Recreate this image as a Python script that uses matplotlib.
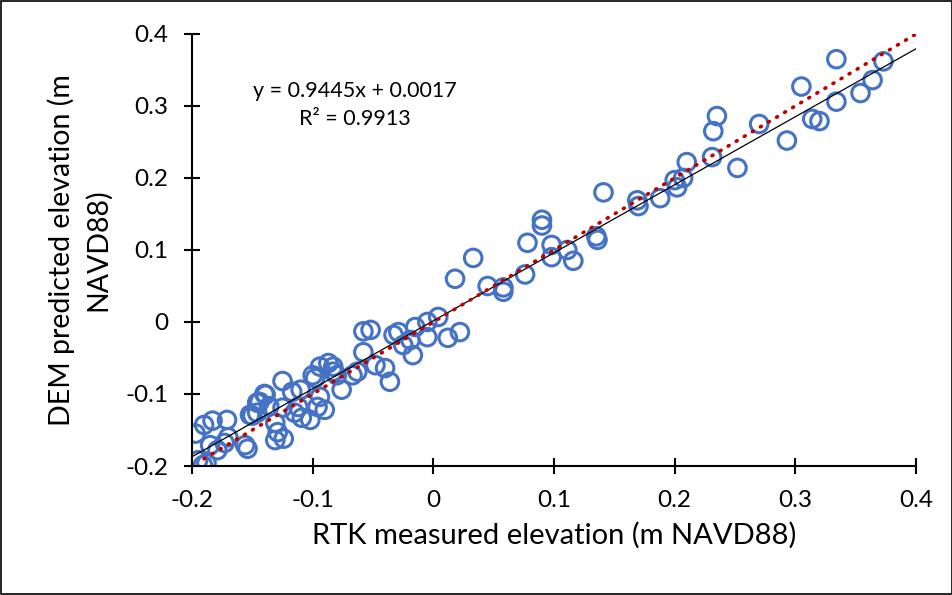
import matplotlib
matplotlib.use('Agg')
import matplotlib.pyplot as plt
import numpy as np
from matplotlib.patches import Rectangle

# RTK measured (x) vs DEM predicted (y) elevation, m NAVD88
rtk = [
    -0.195, -0.191, -0.188, -0.197, -0.190, -0.183, -0.171, -0.185, -0.179, -0.170,
    -0.173, -0.156, -0.154, -0.150, -0.146, -0.140, -0.136, -0.131, -0.129, -0.131,
    -0.124, -0.125, -0.125, -0.117, -0.110, -0.112, -0.115, -0.109, -0.102, -0.100,
    -0.094, -0.098, -0.087, -0.083, -0.083, -0.080, -0.076, -0.067, -0.063, -0.094,
    -0.096, -0.090, -0.058, -0.052, -0.058, -0.048, -0.040, -0.036, -0.033, -0.029,
    -0.025, -0.019, -0.017, -0.015, -0.005, -0.005, 0.004, 0.012, 0.022, 0.018,
    0.033, 0.045, 0.058, 0.058, 0.076, 0.078, 0.090, 0.090, 0.098, 0.098,
    0.111, 0.116, 0.135, 0.136, 0.141, 0.169, 0.170, 0.188, 0.200, 0.202,
    0.207, 0.210, 0.231, 0.232, 0.235, 0.252, 0.270, 0.293, 0.305, 0.314,
    0.320, 0.334, 0.334, 0.354, 0.364, 0.373, -0.146, -0.152, -0.144, -0.139,
]
dem = [
    -0.192, -0.199, -0.196, -0.155, -0.143, -0.137, -0.136, -0.171, -0.178, -0.160,
    -0.168, -0.171, -0.176, -0.130, -0.112, -0.100, -0.117, -0.140, -0.153, -0.164,
    -0.162, -0.119, -0.082, -0.097, -0.094, -0.118, -0.126, -0.133, -0.136, -0.074,
    -0.062, -0.078, -0.057, -0.062, -0.069, -0.074, -0.094, -0.074, -0.069, -0.104,
    -0.118, -0.122, -0.013, -0.011, -0.042, -0.060, -0.064, -0.083, -0.018, -0.014,
    -0.032, -0.025, -0.046, -0.007, -0.021, 0.000, 0.007, -0.022, -0.014, 0.060,
    0.089, 0.050, 0.048, 0.042, 0.066, 0.110, 0.142, 0.134, 0.107, 0.090,
    0.100, 0.085, 0.119, 0.114, 0.180, 0.169, 0.161, 0.172, 0.197, 0.187,
    0.200, 0.222, 0.229, 0.265, 0.286, 0.214, 0.275, 0.252, 0.327, 0.282,
    0.279, 0.365, 0.306, 0.318, 0.336, 0.362, -0.126, -0.129, -0.111, -0.101,
]

slope = 0.9445
intercept = 0.0017
eq_text = "y = 0.9445x + 0.0017"
r2_text = "R² = 0.9913"

plt.rcParams['font.family'] = ['Lato', 'DejaVu Sans']

fig = plt.figure(figsize=(9.53, 5.95), dpi=100)
ax = fig.add_axes([0.2015, 0.2168, 0.7597, 0.7261])

ax.scatter(rtk, dem, s=160, facecolors='none', edgecolors='#4472C4',
           linewidths=2.2, zorder=2)

# fitted trendline (black) and 1:1 line (red dotted)
xfit = np.array([-0.2, 0.4])
ax.plot(xfit, slope * xfit + intercept, color='black', lw=0.9, zorder=3)
x11 = np.array([-0.19, 0.4])
ax.plot(x11, x11, color='#C00000', lw=2.6, linestyle=(0, (0.3, 2.3)),
        dash_capstyle='round', zorder=4)

ax.set_xlim(-0.2, 0.4)
ax.set_ylim(-0.2, 0.4)
ax.set_xticks([-0.2, -0.1, 0, 0.1, 0.2, 0.3, 0.4])
ax.set_yticks([-0.2, -0.1, 0, 0.1, 0.2, 0.3, 0.4])
ax.set_xticklabels(['-0.2', '-0.1', '0', '0.1', '0.2', '0.3', '0.4'])
ax.set_yticklabels(['-0.2', '-0.1', '0', '0.1', '0.2', '0.3', '0.4'])

for side in ['top', 'right']:
    ax.spines[side].set_visible(False)
for side in ['left', 'bottom']:
    ax.spines[side].set_linewidth(1.5)
ax.tick_params(direction='inout', length=12, width=1.5, labelsize=17.5, pad=11)

ax.set_xlabel('RTK measured elevation (m NAVD88)', fontsize=21, labelpad=8)
ax.set_ylabel('DEM predicted elevation (m\nNAVD88)', fontsize=20.5, labelpad=10,
              linespacing=1.45)

ax.text(0.225, 0.855, eq_text, transform=ax.transAxes, ha='center', fontsize=15.5)
ax.text(0.225, 0.79, r2_text, transform=ax.transAxes, ha='center', fontsize=15.5)

fig.patches.append(Rectangle((0.001, 0.001), 0.998, 0.998, transform=fig.transFigure,
                             fill=False, edgecolor='black', lw=1.2))

fig.savefig('out.png', dpi=100)
